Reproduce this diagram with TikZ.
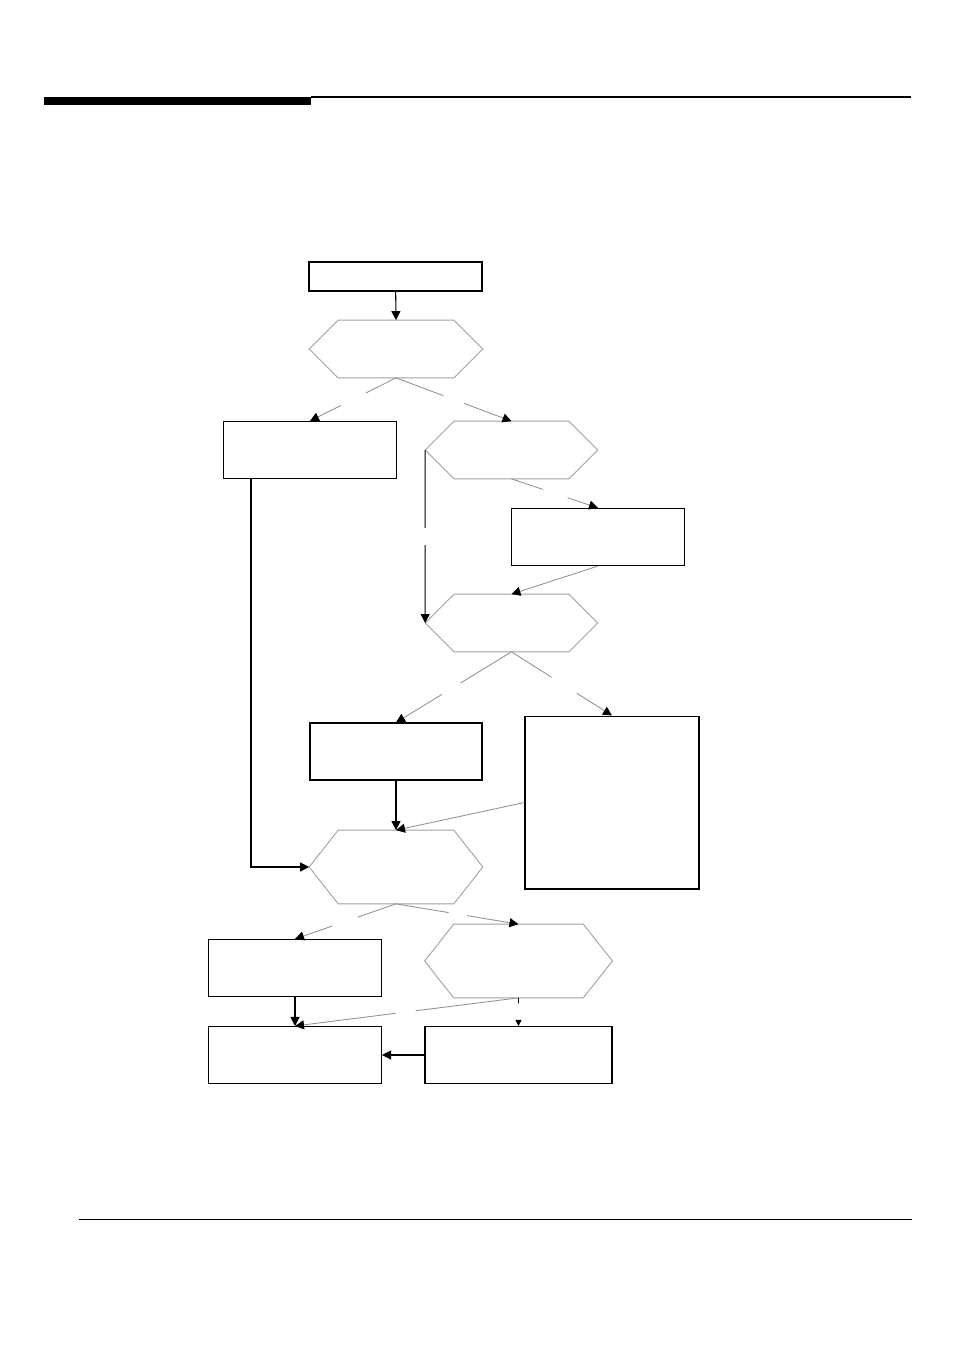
\documentclass[tikz,border=0pt]{standalone}
\usepackage{tikz}
\usetikzlibrary{calc,arrows.meta}

% connector broken in the middle: #2 -> #3, gap between fractions #4 and #5
\newcommand\gapline[5][]{%
  \draw[link,#1] (#2) -- ($(#2)!#4!(#3)$);
  \draw[link,-{Triangle[length=1.8mm,width=1.8mm,black]},#1] ($(#2)!#5!(#3)$) -- (#3);}

\begin{document}
\begin{tikzpicture}[x=0.02cm,y=-0.02cm,
    box/.style={draw,line width=0.6pt,minimum width=3.46cm,minimum height=1.14cm,inner sep=0pt},
    hex/.style={minimum width=3.46cm,minimum height=1.14cm,inner sep=0pt},
    hexline/.style={draw=gray!75,line width=0.5pt},
    link/.style={draw=gray!85,line width=0.5pt},
    flow/.style={line width=0.6pt,-{Triangle[length=1.8mm,width=1.8mm]}}]
  \useasboundingbox (0,0) rectangle (954,1350);
  % page rules
  \fill (44,97) rectangle (311,105);
  \draw[line width=0.6pt] (311,97) -- (911,97);
  \draw[line width=0.5pt] (79,1219) -- (912,1219);

  % nodes
  \node[box,minimum height=0.58cm] (start) at (395.5,276.5) {};
  \node[hex] (hexA) at (396,349) {};
  \node[box] (boxA) at (310,450) {};
  \node[hex,minimum width=3.44cm] (hexB) at (511.5,450) {};
  \node[box] (boxB) at (598,537) {};
  \node[hex,minimum width=3.44cm] (hexC) at (511.5,623) {};
  \node[box,minimum width=3.44cm] (boxC) at (396,751.5) {};
  \node[box,minimum width=3.48cm,minimum height=3.46cm] (boxD) at (612,802.5) {};
  \node[hex,minimum height=1.46cm] (hexD) at (396,867) {};
  \node[box] (boxE) at (295,968) {};
  \node[hex,minimum width=3.74cm,minimum height=1.46cm] (hexE) at (518.5,961) {};
  \node[box] (boxF) at (295,1055) {};
  \node[box,minimum width=3.74cm] (boxG) at (518.5,1055) {};

  % hexagon outlines
  \foreach \h in {hexA,hexB,hexC,hexD,hexE}
    \draw[hexline] (\h.west) -- ([xshift=0.58cm]\h.north west) -- ([xshift=-0.58cm]\h.north east)
      -- (\h.east) -- ([xshift=-0.58cm]\h.south east) -- ([xshift=0.58cm]\h.south west) -- cycle;

  % connectors
  \draw[flow] (start) -- (hexA.north);
  \gapline{hexA.south}{boxA.north}{0.35}{0.64}
  \gapline{hexA.south}{hexB.north}{0.41}{0.59}
  \gapline{hexB.south}{boxB.north}{0.36}{0.65}
  \gapline[draw=black,line width=0.6pt]{hexB.west}{hexC.west}{0.45}{0.55}
  \draw[link,-{Triangle[length=1.8mm,width=1.8mm,black]}] (boxB.south) -- (hexC.north);
  \gapline{hexC.south}{boxC.north}{0.44}{0.6}
  \gapline{hexC.south}{boxD.north}{0.40}{0.65}
  \draw[flow] (boxC) -- (hexD.north);
  \draw[link,-{Triangle[length=1.8mm,width=1.8mm,black]}] (boxD.west) -- (hexD.north);
  \draw[flow] ([xshift=-1.18cm]boxA.south) |- (hexD.west);
  \gapline{hexD.south}{boxE.north}{0.38}{0.63}
  \gapline{hexD.south}{hexE.north}{0.43}{0.58}
  \draw[flow] (boxE) -- (boxF);
  \gapline{hexE.south}{boxF.north}{0.46}{0.55}
  \draw[black,line width=0.5pt] (hexE.south) -- ($(hexE.south)!0.2!(boxG.north)$);
  \draw[-{Triangle[length=1.2mm,width=1.2mm]},line width=0.5pt] ($(hexE.south)!0.8!(boxG.north)$) -- (boxG.north);
  \draw[flow] (boxG) -- (boxF);
\end{tikzpicture}
\end{document}
